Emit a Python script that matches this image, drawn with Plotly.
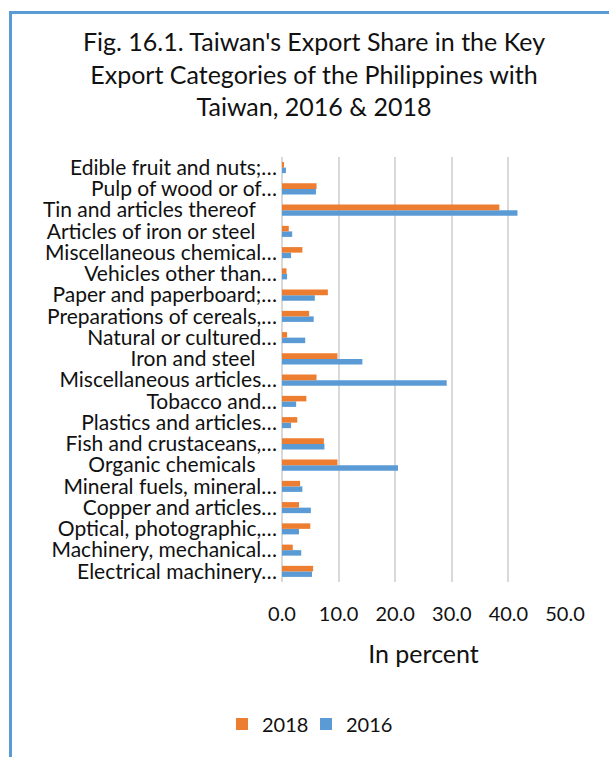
import plotly.graph_objects as go

# Categories listed bottom-to-top as they appear on the axis
categories = [
    "Electrical machinery…",
    "Machinery, mechanical…",
    "Optical, photographic,…",
    "Copper and articles…",
    "Mineral fuels, mineral…",
    "Organic chemicals\u00a0\u00a0\u00a0\u00a0",
    "Fish and crustaceans,…",
    "Plastics and articles…",
    "Tobacco and…",
    "Miscellaneous articles…",
    "Iron and steel\u00a0\u00a0\u00a0\u00a0",
    "Natural or cultured…",
    "Preparations of cereals,…",
    "Paper and paperboard;…",
    "Vehicles other than…",
    "Miscellaneous chemical…",
    "Articles of iron or steel\u00a0\u00a0\u00a0\u00a0",
    "Tin and articles thereof\u00a0\u00a0\u00a0\u00a0",
    "Pulp of wood or of…",
    "Edible fruit and nuts;…",
]

share_2018 = [5.5, 1.9, 5.0, 3.0, 3.2, 9.8, 7.4, 2.7, 4.3, 6.1,
              9.8, 0.9, 4.8, 8.1, 0.8, 3.6, 1.2, 38.4, 6.1, 0.3]
share_2016 = [5.3, 3.4, 3.0, 5.1, 3.6, 20.5, 7.5, 1.6, 2.5, 29.1,
              14.2, 4.1, 5.6, 5.8, 0.9, 1.6, 1.8, 41.6, 6.0, 0.7]

x_ticks = [0, 10, 20, 30, 40, 50]
x_tick_labels = ["0.0", "10.0", "20.0", "30.0", "40.0", "50.0"]

ORANGE = "#ED7D31"
BLUE = "#5B9BD5"
GRID = "#D9D9D9"
FONT = "Lato"
TEXT = "#111111"

W, H = 609, 757
L, R, T, B = 282, 44, 157, 175
PW, PH = W - L - R, H - T - B


def px_x(px):
    return (px - L) / PW


def px_y(py):
    return (H - B - py) / PH


fig = go.Figure()
fig.add_trace(go.Bar(
    y=categories, x=share_2016, name="2016", orientation="h",
    marker=dict(color=BLUE, line=dict(width=0)), legend="legend2",
))
fig.add_trace(go.Bar(
    y=categories, x=share_2018, name="2018", orientation="h",
    marker=dict(color=ORANGE, line=dict(width=0)), legend="legend",
))

legend_style = dict(
    orientation="h", xref="container", xanchor="left",
    y=1 - 724 / H, yref="container", yanchor="middle",
    font=dict(family=FONT, size=20, color=TEXT),
    bgcolor="rgba(0,0,0,0)", borderwidth=0,
)

fig.update_layout(
    width=W, height=H,
    margin=dict(l=L, r=R, t=T, b=B, autoexpand=False),
    paper_bgcolor="white", plot_bgcolor="white",
    barmode="group", bargap=0.48, bargroupgap=0,
    font=dict(family=FONT, size=20, color=TEXT),
    title=dict(
        text="Fig. 16.1. Taiwan's Export Share in the Key<br>"
             "Export Categories of the Philippines with<br>"
             "Taiwan, 2016 & 2018",
        x=314 / W, xref="container", xanchor="center",
        y=1 - 51 / H, yref="container", yanchor="top",
        font=dict(family=FONT, size=25, color=TEXT),
    ),
    xaxis=dict(
        range=[0, 50], tickvals=x_ticks, ticktext=x_tick_labels,
        showgrid=True, gridcolor=GRID, gridwidth=1.5,
        zeroline=True, zerolinecolor=GRID, zerolinewidth=1.5,
        showline=False, ticks="", ticklabelstandoff=18,
        tickfont=dict(family=FONT, size=20, color=TEXT),
        title=dict(text="In percent", standoff=21,
                   font=dict(family=FONT, size=25, color=TEXT)),
        fixedrange=True,
    ),
    yaxis=dict(
        categoryorder="array", categoryarray=categories,
        tickmode="array", tickvals=categories,
        range=[-0.5, len(categories) - 0.5],
        showgrid=False, showline=False, ticks="",
        ticklabelstandoff=4,
        tickfont=dict(family=FONT, size=21, color=TEXT),
        fixedrange=True,
    ),
    legend=dict(legend_style, x=222 / W),
    legend2=dict(legend_style, x=306 / W),
    showlegend=True,
    shapes=[
        # chart-area frame: top and left edges
        dict(type="rect", xref="paper", yref="paper",
             x0=px_x(9), x1=px_x(W), y0=px_y(14), y1=px_y(11),
             line=dict(width=0), fillcolor=BLUE, layer="above"),
        dict(type="rect", xref="paper", yref="paper",
             x0=px_x(9), x1=px_x(12), y0=px_y(H), y1=px_y(11),
             line=dict(width=0), fillcolor=BLUE, layer="above"),
    ],
)

fig.write_html("out.html", config={"displayModeBar": False})
